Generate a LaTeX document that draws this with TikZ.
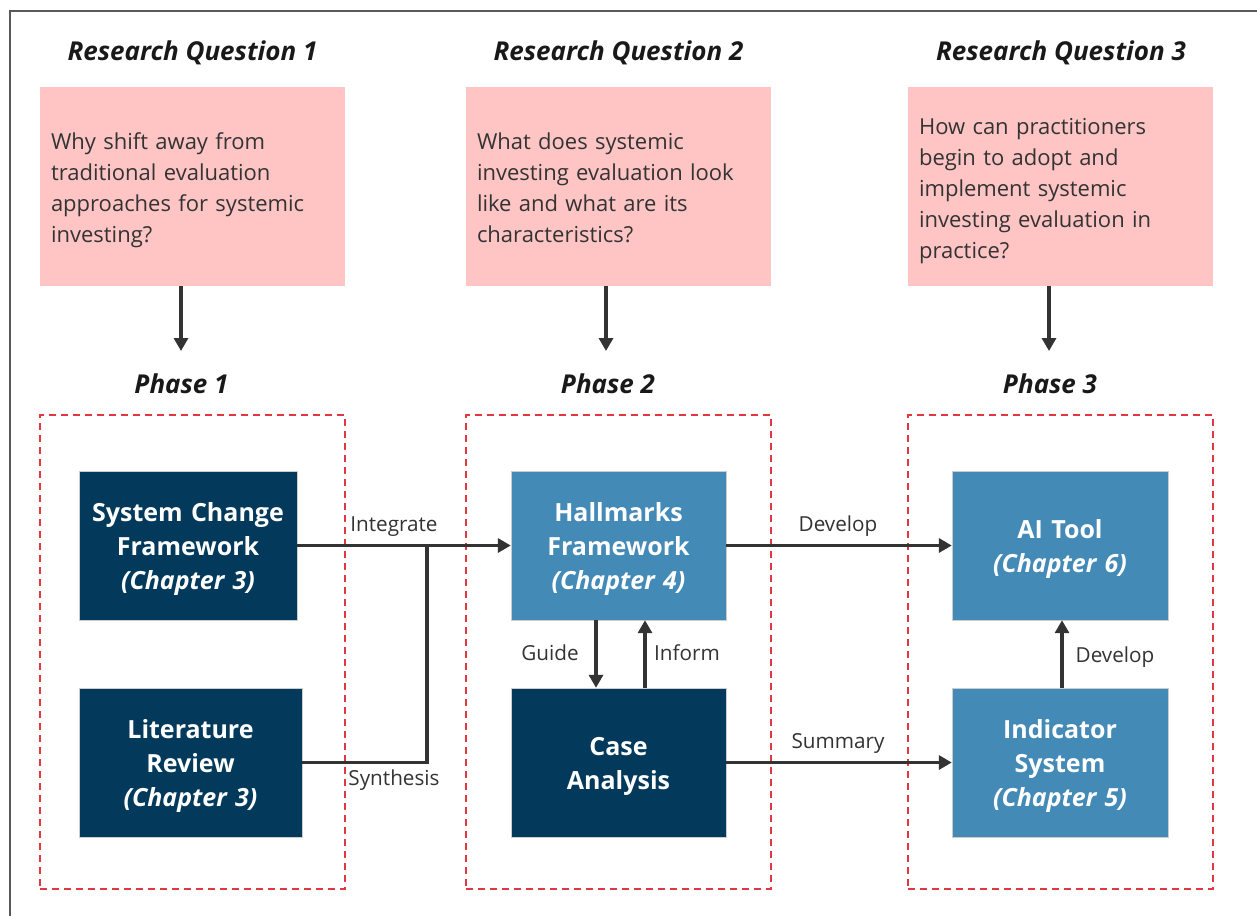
\documentclass[tikz,border=0pt]{standalone}
\usepackage{fontspec}
\setmainfont{Open Sans}
\usetikzlibrary{arrows.meta,positioning}
\definecolor{navy}{HTML}{033A5C}
\definecolor{sky}{HTML}{438AB7}
\definecolor{rose}{HTML}{FFC5C5}
\definecolor{redd}{HTML}{E0383E}
\definecolor{ink}{HTML}{333333}
\tikzset{
  head/.style={font=\fontsize{26}{30}\selectfont\bfseries\itshape,text=black!90},
  qbox/.style={fill=rose,minimum width=305pt,minimum height=199pt,inner sep=0pt,text width=283pt,align=left,font=\fontsize{22}{31}\selectfont,text=ink,
    execute at begin node={\rule{0pt}{28.7pt}},execute at end node=\strut},
  frame/.style={draw=redd,line width=1.3pt,dash pattern=on 7pt off 5pt,minimum width=305pt,minimum height=474pt,inner sep=0pt},
  dbox/.style={fill=navy,draw=gray!40,text=white,text width=205pt,align=center,inner sep=0pt,minimum height=149pt,font=\fontsize{25}{34}\selectfont\bfseries,
    execute at begin node={\rule{0pt}{30.8pt}},execute at end node=\strut},
  lbox/.style={dbox,fill=sky},
  ar/.style={-{Triangle[length=13pt,width=14pt]},line width=3.3pt,draw=ink},
  ln/.style={line width=3.3pt,draw=ink},
  lbl/.style={font=\fontsize{20.7}{24}\selectfont,text=ink,text height=15pt,text depth=4pt},
}
\newcommand{\chap}[1]{\textit{(Chapter #1)}}

\begin{document}
\begin{tikzpicture}[x=1pt,y=-1pt]
\useasboundingbox (0,0) rectangle (1257,916);
\draw[black!65,line width=1.2pt] (1257,11) -- (10,11) -- (10,916);

% research questions
\node[head] (h1) at (192.5,53) {Research Question 1};
\node[head] (h2) at (618.5,53) {Research Question 2};
\node[head] (h3) at (1061,53) {Research Question 3};
\node[qbox] (q1) at (192.5,186.5) {Why shift away from\\traditional evaluation\\approaches for systemic\\investing?};
\node[qbox] (q2) at (618.5,186.5) {What does systemic\\investing evaluation look\\like and what are its\\characteristics?};
\node[qbox] (q3) at (1060.5,186.5) {How can practitioners\\begin to adopt and\\implement systemic\\investing evaluation in\\practice?};

% phases
\coordinate (t1) at (181,351);
\coordinate (t2) at (606,351);
\coordinate (t3) at (1049,351);
\draw[ar] (q1.south -| t1) -- (t1);
\draw[ar] (q2.south -| t2) -- (t2);
\draw[ar] (q3.south -| t3) -- (t3);
\node[head] (p1) at (181.5,384) {Phase 1};
\node[head] (p2) at (608,384) {Phase 2};
\node[head] (p3) at (1050,384) {Phase 3};
\node[frame] (f1) at (192.5,652) {};
\node[frame] (f2) at (618.5,652) {};
\node[frame] (f3) at (1060.5,652) {};

% boxes
\node[dbox,minimum width=218pt] (scf) at (188,545.5) {System Change\\Framework\\\chap{3}};
\node[dbox,minimum width=223pt] (lit) at (190.5,762.5) {Literature\\Review\\\chap{3}};
\node[lbox,minimum width=215pt] (hall) at (618.5,545.5) {Hallmarks\\Framework\\\chap{4}};
\node[dbox,minimum width=215pt] (case) at (618.5,762.5) {Case\\Analysis};
\node[lbox,minimum width=216pt] (ai) at (1060,545.5) {AI Tool\\\chap{6}};
\node[lbox,minimum width=216pt] (ind) at (1060,762.5) {Indicator\\System\\\chap{5}};

% connectors
\coordinate (jn) at (427,545.5);
\draw[ar] (scf.east) -- (hall.west);
\draw[ln] (lit.east) -| (jn);
\draw[ar] (hall.east) -- (ai.west);
\draw[ar] ([xshift=-22.5pt]hall.south) -- ([xshift=-22.5pt]case.north);
\draw[ar] ([xshift=26.5pt]case.north) -- ([xshift=26.5pt]hall.south);
\draw[ar] (case.east) -- (ind.west);
\draw[ar] ([xshift=2pt]ind.north) -- ([xshift=2pt]ai.south);
\node[lbl] (l1) at (394,525.5) {Integrate};
\node[lbl] (l2) at (394,779.5) {Synthesis};
\node[lbl] (l3) at (838,525.5) {Develop};
\node[lbl] (l4) at (550,654.5) {Guide};
\node[lbl] (l5) at (687,654.5) {Inform};
\node[lbl] (l6) at (838,742.5) {Summary};
\node[lbl] (l7) at (1115,656.5) {Develop};
\end{tikzpicture}
\end{document}
